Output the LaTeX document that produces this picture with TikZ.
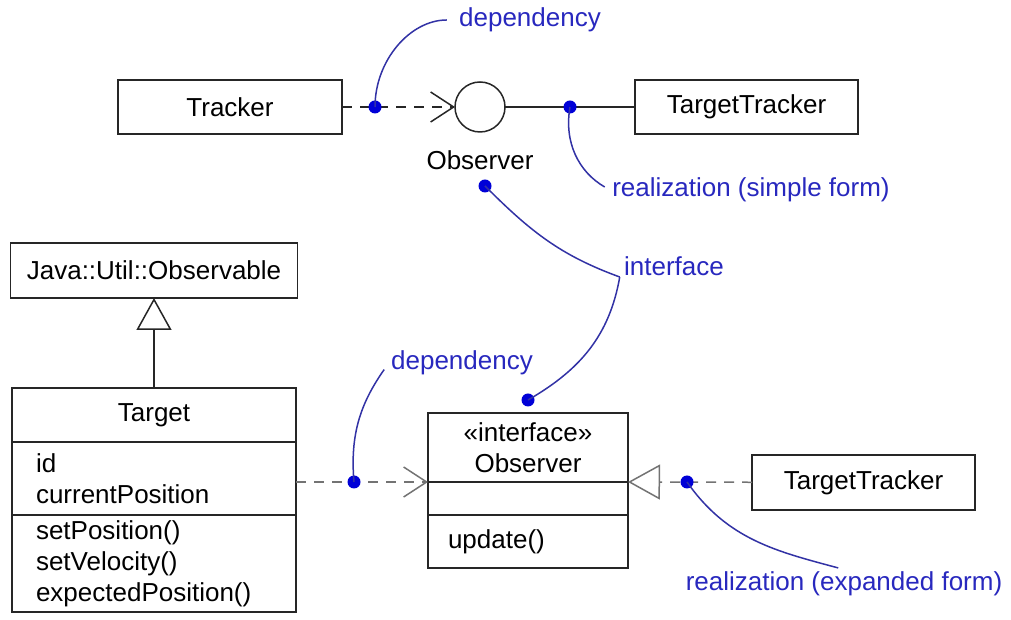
\documentclass[tikz,border=0pt]{standalone}
\usepackage{fontspec}
\setmainfont{Liberation Sans}
\usepackage{xcolor}
\usepackage{tikz}
\usetikzlibrary{
  arrows.meta,
  positioning,
  calc
}
\definecolor{notetext}{RGB}{40,40,190}
\definecolor{noteline}{RGB}{50,50,165}
\definecolor{notedot}{RGB}{0,0,215}

\begin{document}
\begin{tikzpicture}[
  x=0.5pt, y=0.5pt,
  font=\fontsize{13}{15.5}\selectfont,
  classbox/.style={
    draw=black!85, line width=0.75pt, outer sep=0pt,
    minimum height=27pt, inner sep=0pt
  },
  compart/.style={
    classbox, align=left, inner xsep=12pt
  },
  note/.style={text=notetext, inner sep=1pt},
  dot/.style={circle, fill=notedot, inner sep=0pt, minimum size=6.5pt},
  pointer/.style={draw=noteline, line width=0.75pt},
  depline/.style={
    draw=black!85, line width=0.75pt, dash pattern=on 5pt off 4pt,
    -{Straight Barb[length=11.5pt, width=15pt, line width=0.75pt]}
  },
  realline/.style={
    draw=black!55, line width=0.75pt, dash pattern=on 5pt off 4pt,
    -{Triangle[open, length=16pt, width=17.5pt, line width=0.75pt]}
  }
]
  \useasboundingbox (0,0) rectangle (1011,620);

  % simple form
  \node[classbox, minimum width=112pt] (tracker) at (230,513) {Tracker};
  \node[circle, draw=black!85, line width=0.75pt, minimum size=25pt, inner sep=0pt,
        outer sep=0pt] (lolli) at (480,513) {};
  \node (obslbl) at (480,460) {Observer};
  \node[classbox, minimum width=111.5pt] (tt1) at (746.5,513) {TargetTracker};
  \draw[depline] (tracker) -- (lolli);
  \draw[black!85, line width=0.75pt] (lolli) -- (tt1);

  % expanded form
  \node[classbox, minimum width=143.5pt, minimum height=27.5pt] (observable) at (154,349.5)
    {Java::Util::Observable};
  \node[classbox, minimum width=142pt] (tname) at (154,205) {Target};
  \node[compart, text width=118pt, minimum height=36.5pt, below=0pt of tname] (tattr)
    {id\\currentPosition};
  \node[compart, text width=118pt, minimum height=48.5pt, below=0pt of tattr] (tops)
    {setPosition()\\setVelocity()\\expectedPosition()};
  \draw[black!85, line width=0.75pt,
        -{Triangle[open, length=16pt, width=17.5pt, line width=0.75pt]}]
    (tname) -- (observable);

  \node[classbox, minimum width=100pt, minimum height=34.5pt, align=center] (iname) at (528,172.5)
    {«interface»\\Observer};
  \node[classbox, minimum width=100pt, minimum height=16.5pt, below=0pt of iname] (iattr) {};
  \node[compart, text width=80pt, inner xsep=10pt, minimum height=26.5pt, below=0pt of iattr] (iops)
    {update()};
  \node[classbox, minimum width=111.5pt, minimum height=27.5pt] (tt2) at (863.5,137.5) {TargetTracker};
  \draw[depline, draw=black!55] (tattr.east |- iname.south west) -- (iname.south west);
  \draw[realline] (tt2) -- (iname.south east);

  % notes
  \node[note] (dep1) at (530,600) {dependency};
  \node[note] (real1) at (751,430) {realization (simple form)};
  \node[note] (intf) at (674,354) {interface};
  \node[note] (dep2) at (462,257) {dependency};
  \node[note] (real2) at (844,36) {realization (expanded form)};
  \coordinate (kink) at ([shift={(-2,-11)}]intf.west);

  \node[dot] (d1) at (375,513) {};
  \node[dot] (d2) at (570,513) {};
  \node[dot] (d3) at (485,434) {};
  \node[dot] (d4) at (528,220) {};
  \node[dot] (d5) at (354,138) {};
  \node[dot] (d6) at (687,138) {};

  \draw[pointer, shorten >=5pt] (d1.center) to[out=90, in=180] (dep1.west);
  \draw[pointer, shorten >=3pt] (d2.center) to[out=-100, in=150] (real1.west);
  \draw[pointer] (d3.center) to[out=-45, in=160] (kink);
  \draw[pointer] (kink) to[out=-100, in=30] (d4.center);
  \draw[pointer, shorten >=4pt] (d5.center) to[out=95, in=-125] (dep2.west);
  \draw[pointer, shorten >=3pt] (d6.center) to[out=-55, in=165] (real2.north);
\end{tikzpicture}
\end{document}
